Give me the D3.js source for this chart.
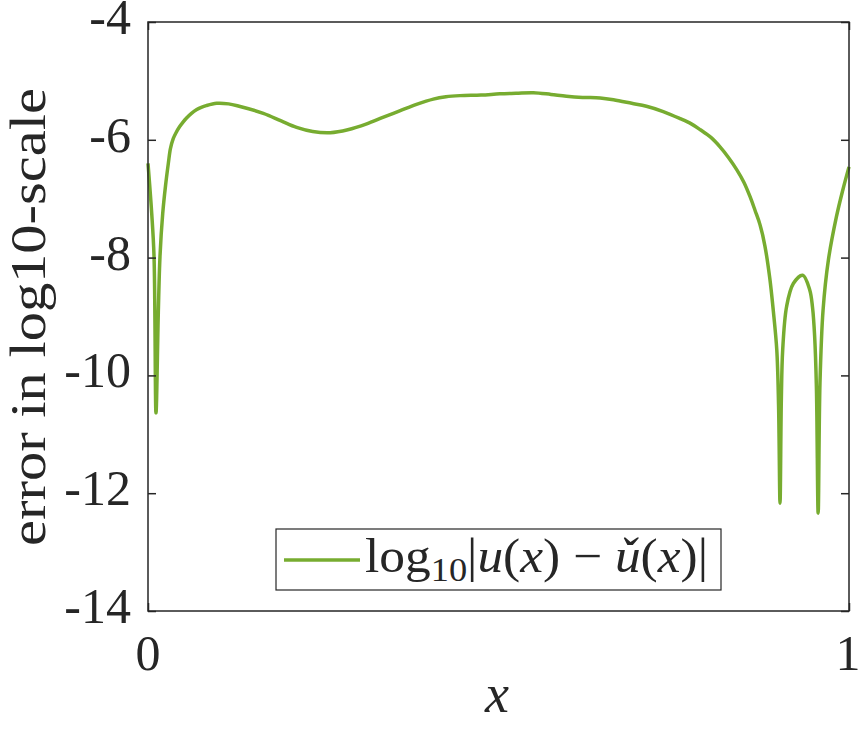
<!doctype html>
<html lang="en">
<head>
<meta charset="UTF-8">
<title>error in log10-scale</title>
<script src="https://d3js.org/d3.v7.min.js"></script>
<style>
  body { margin: 0; background: #fff; }
  text { font-family: "Liberation Serif", "DejaVu Serif", serif; fill: #262626; }
</style>
</head>
<body>
<div id="chart"></div>
<script>
// values
let xVals = [0, 0.0053, 0.0086, 0.0114, 0.0147, 0.0171, 0.021, 0.025, 0.029, 0.032,
  0.036, 0.040, 0.045, 0.050, 0.055, 0.062, 0.069, 0.076, 0.083, 0.098, 0.115,
  0.13, 0.1645, 0.19, 0.212, 0.235, 0.26,
  0.285, 0.312, 0.335, 0.359, 0.383, 0.407, 0.425, 0.445, 0.475, 0.502,
  0.525, 0.55, 0.575, 0.597, 0.62, 0.645, 0.664, 0.69, 0.711, 0.735,
  0.759, 0.775, 0.788, 0.803, 0.816, 0.828, 0.84, 0.85, 0.859, 0.866,
  0.873, 0.88, 0.887, 0.892, 0.897, 0.8995, 0.9016, 0.9035, 0.9054, 0.911,
  0.9206, 0.934, 0.944, 0.948, 0.951, 0.9535, 0.956, 0.9586, 0.963, 0.9706,
  0.982, 0.991, 1.0];
let errVals = [-6.40, -7.25, -7.98, -10.64, -8.94, -7.98, -7.25, -6.78, -6.40, -6.15,
  -5.98, -5.88, -5.78, -5.70, -5.63, -5.55, -5.49, -5.45, -5.42, -5.38, -5.39,
  -5.43, -5.55, -5.68, -5.79, -5.86, -5.88,
  -5.83, -5.73, -5.62, -5.51, -5.40, -5.31, -5.27, -5.25, -5.24, -5.22,
  -5.21, -5.20, -5.23, -5.26, -5.28, -5.29, -5.32, -5.38, -5.43, -5.52,
  -5.64, -5.73, -5.83, -5.96, -6.12, -6.30, -6.51, -6.72, -6.97, -7.20,
  -7.44, -7.80, -8.35, -8.90, -9.57, -10.5, -12.17, -10.4, -9.57, -8.83,
  -8.44, -8.30, -8.55, -8.85, -9.34, -10.2, -12.34, -10.13, -8.89, -8.04,
  -7.31, -6.86, -6.46];
let yTicks = [-14, -12, -10, -8, -6, -4];
let xTicks = [0, 1];

let W = 859, H = 738;
let mLeft = 148, mRight = 849, mTop = 22, mBottom = 611;

let svg = d3.select("#chart").append("svg")
  .attr("width", W)
  .attr("height", H);

svg.append("rect").attr("width", W).attr("height", H).attr("fill", "#fff");

let x = d3.scaleLinear().domain([0, 1]).range([mLeft, mRight]);
let y = d3.scaleLinear().domain([-14, -4]).range([mBottom, mTop]);

// curve
let pts = xVals.map(function(d, i) { return [d, errVals[i]]; });
let line = d3.line()
  .x(function(d) { return x(d[0]); })
  .y(function(d) { return y(d[1]); })
  .curve(d3.curveCatmullRom.alpha(0.5));

svg.append("path")
  .datum(pts)
  .attr("d", line)
  .attr("fill", "none")
  .attr("stroke", "#77AC30")
  .attr("stroke-width", 3.5);

// axes (ticks pointing inward, box on)
let axisColor = "#262626";
let yLeft = svg.append("g").attr("transform", "translate(" + mLeft + ",0)")
  .call(d3.axisRight(y).tickValues(yTicks).tickSize(8).tickFormat(""));
let yRight = svg.append("g").attr("transform", "translate(" + mRight + ",0)")
  .call(d3.axisLeft(y).tickValues(yTicks).tickSize(8).tickFormat(""));
let xBottom = svg.append("g").attr("transform", "translate(0," + mBottom + ")")
  .call(d3.axisTop(x).tickValues(xTicks).tickSize(8).tickFormat(""));
let xTop = svg.append("g").attr("transform", "translate(0," + mTop + ")")
  .call(d3.axisBottom(x).tickValues(xTicks).tickSize(8).tickFormat(""));
[yLeft, yRight, xBottom, xTop].forEach(function(g) {
  g.selectAll("path, line").attr("stroke", axisColor).attr("stroke-width", 1.5);
  g.select(".domain").remove();
});
svg.append("rect")
  .attr("x", mLeft).attr("y", mTop)
  .attr("width", mRight - mLeft).attr("height", mBottom - mTop)
  .attr("fill", "none").attr("stroke", axisColor).attr("stroke-width", 1.5);

// tick labels
svg.selectAll(".ylab").data(yTicks).enter()
  .append("text")
    .attr("class", "ylab")
    .attr("x", mLeft - 17)
    .attr("y", function(d) { return y(d) + 12; })
    .attr("text-anchor", "end")
    .attr("font-size", "50px")
    .text(function(d) { return "-" + Math.abs(d); });

svg.selectAll(".xlab").data(xTicks).enter()
  .append("text")
    .attr("class", "xlab")
    .attr("x", function(d) { return x(d) - (d === 1 ? 1 : 0); })
    .attr("y", 670)
    .attr("text-anchor", "middle")
    .attr("font-size", "50px")
    .text(function(d) { return d; });

// axis titles
svg.append("text")
  .attr("transform", "translate(45,317) rotate(-90)")
  .attr("text-anchor", "middle")
  .attr("font-size", "50px")
  .attr("textLength", 458)
  .attr("lengthAdjust", "spacingAndGlyphs")
  .text("error in log10-scale");

svg.append("text")
  .attr("x", 497)
  .attr("y", 712)
  .attr("text-anchor", "middle")
  .attr("font-size", "54px")
  .attr("font-style", "italic")
  .text("x");

// legend
svg.append("rect")
  .attr("x", 276).attr("y", 529)
  .attr("width", 445).attr("height", 61)
  .attr("fill", "#fff").attr("stroke", axisColor).attr("stroke-width", 1.2);
svg.append("line")
  .attr("x1", 284).attr("x2", 360)
  .attr("y1", 560).attr("y2", 560)
  .attr("stroke", "#77AC30").attr("stroke-width", 3.5);

let leg = svg.append("text")
  .attr("x", 365)
  .attr("y", 572)
  .attr("font-size", "48px")
  .attr("textLength", 343)
  .attr("lengthAdjust", "spacingAndGlyphs")
  .attr("fill", "#000");
leg.append("tspan").text("log");
leg.append("tspan").attr("font-size", "34px").attr("dy", 9).text("10");
leg.append("tspan").attr("dy", -9).text("|");
leg.append("tspan").attr("font-style", "italic").text("u");
leg.append("tspan").text("(");
leg.append("tspan").attr("font-style", "italic").text("x");
leg.append("tspan").text(") \u2212 ");
leg.append("tspan").attr("font-style", "italic").text("\u01D4");
leg.append("tspan").text("(");
leg.append("tspan").attr("font-style", "italic").text("x");
leg.append("tspan").text(")|");
</script>
</body>
</html>
